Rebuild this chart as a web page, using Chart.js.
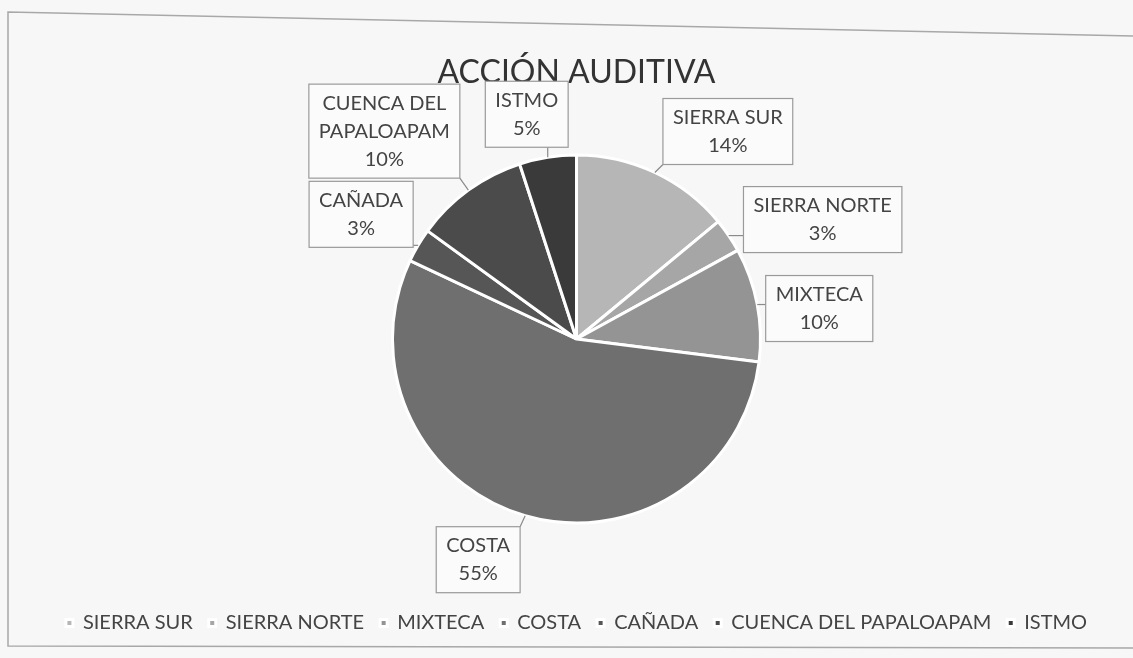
<!DOCTYPE html>
<html>
<head>
<meta charset="utf-8">
<script src="https://cdn.jsdelivr.net/npm/chart.js@4.4.1/dist/chart.umd.min.js"></script>
<style>
  html, body { margin: 0; padding: 0; background: #f7f7f7; }
  #pieChart { display: block; }
</style>
</head>
<body>
<canvas id="pieChart" width="1133" height="658"></canvas>
<script>
// Regions and their share of the total (percent)
var regiones = ['SIERRA SUR', 'SIERRA NORTE', 'MIXTECA', 'COSTA', 'CAÑADA', 'CUENCA DEL PAPALOAPAM', 'ISTMO'];
var porcentajes = [14, 3, 10, 55, 3, 10, 5];

// Lines shown in each data label box
var etiquetas = [
    ['SIERRA SUR', '14%'],
    ['SIERRA NORTE', '3%'],
    ['MIXTECA', '10%'],
    ['COSTA', '55%'],
    ['CAÑADA', '3%'],
    ['CUENCA DEL', 'PAPALOAPAM', '10%'],
    ['ISTMO', '5%']
];

// Grey shades, light to dark, like the printed copy
var grises = ['#b6b6b6', '#a6a6a6', '#949494', '#6f6f6f', '#565656', '#4b4b4b', '#3a3a3a'];

// Where each label box sits, measured from the middle of its slice edge
var desplazamientos = [[73, -41], [94, -16], [62, 4], [-47, 44], [-57, -31], [-84, -59], [-21, -43]];

var fuente = 'Lato, "Open Sans", sans-serif';

// Plugin for the frame around the chart and the boxed data labels
var etiquetasPlugin = {
    id: 'etiquetasPlugin',
    beforeDraw: function (chart) {
        var ctx = chart.ctx;
        ctx.save();
        ctx.strokeStyle = '#a8a8a8';
        ctx.lineWidth = 1.5;
        ctx.beginPath();
        ctx.moveTo(1133, 36);
        ctx.lineTo(8, 12);
        ctx.lineTo(8, 646);
        ctx.lineTo(1133, 648);
        ctx.stroke();
        ctx.restore();
    },
    afterDatasetsDraw: function (chart) {
        var ctx = chart.ctx;
        var arcs = chart.getDatasetMeta(0).data;
        ctx.save();
        ctx.font = '20px ' + fuente;
        ctx.textAlign = 'center';
        ctx.textBaseline = 'middle';
        arcs.forEach(function (arc, i) {
            var p = arc.getProps(['x', 'y', 'startAngle', 'endAngle', 'outerRadius'], true);
            var mid = (p.startAngle + p.endAngle) / 2;
            var ax = p.x + Math.cos(mid) * p.outerRadius;
            var ay = p.y + Math.sin(mid) * p.outerRadius;
            var cx = ax + desplazamientos[i][0];
            var cy = ay + desplazamientos[i][1];

            var lineas = etiquetas[i];
            var ancho = 0;
            lineas.forEach(function (t) { ancho = Math.max(ancho, ctx.measureText(t).width); });
            var w = ancho + 20;
            var h = lineas.length * 28 + 10;
            var x0 = cx - w / 2, y0 = cy - h / 2;

            // leader line from the nearest point of the box to the slice
            var nx = Math.min(Math.max(ax, x0), x0 + w);
            var ny = Math.min(Math.max(ay, y0), y0 + h);
            ctx.strokeStyle = '#8a8a8a';
            ctx.lineWidth = 1.2;
            ctx.beginPath();
            ctx.moveTo(nx, ny);
            ctx.lineTo(ax, ay);
            ctx.stroke();

            ctx.fillStyle = '#fbfbfb';
            ctx.fillRect(x0, y0, w, h);
            ctx.strokeStyle = '#9a9a9a';
            ctx.strokeRect(x0, y0, w, h);

            ctx.fillStyle = '#444444';
            lineas.forEach(function (t, k) {
                ctx.fillText(t, cx, y0 + 19 + k * 28);
            });
        });
        ctx.restore();
    }
};

var myPieChart = new Chart(document.getElementById('pieChart'), {
    type: 'pie',
    data: {
        labels: regiones,
        datasets: [{
            data: porcentajes,
            backgroundColor: grises,
            borderColor: '#ffffff',
            borderWidth: 3,
            radius: 184
        }]
    },
    options: {
        responsive: false,
        animation: false,
        layout: { padding: { left: 20, right: 0, top: 0, bottom: 15 } },
        plugins: {
            title: {
                display: true,
                text: 'ACCIÓN AUDITIVA',
                color: '#333333',
                font: { family: fuente, size: 32, weight: 'normal' },
                padding: { top: 53, bottom: 12 }
            },
            legend: {
                position: 'bottom',
                title: { display: true, text: '', padding: 4 },
                labels: {
                    boxWidth: 7,
                    boxHeight: 7,
                    padding: 16,
                    color: '#444444',
                    font: { family: fuente, size: 20 }
                }
            },
            tooltip: { enabled: false }
        }
    },
    plugins: [etiquetasPlugin]
});
</script>
</body>
</html>
